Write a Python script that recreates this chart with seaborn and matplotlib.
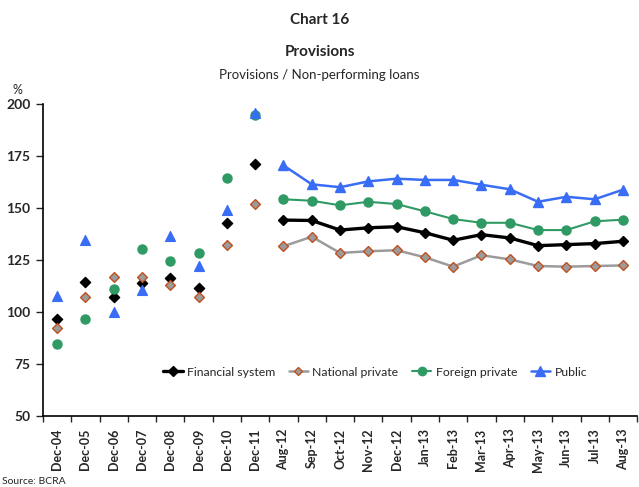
import numpy as np
import pandas as pd
import matplotlib.pyplot as plt
import seaborn as sns
from matplotlib.lines import Line2D

sns.set_theme(style="white")
plt.rcParams["font.family"] = ["Lato", "DejaVu Sans"]

# ---- data ----
annual_labels = ["Dec-04", "Dec-05", "Dec-06", "Dec-07", "Dec-08", "Dec-09", "Dec-10", "Dec-11"]
monthly_labels = ["Aug-12", "Sep-12", "Oct-12", "Nov-12", "Dec-12", "Jan-13", "Feb-13",
                  "Mar-13", "Apr-13", "May-13", "Jun-13", "Jul-13", "Aug-13"]

fin_annual = [96.5, 114.6, 107.2, 114.1, 116.2, 111.5, 142.6, 171.2]
nat_annual = [92.2, 107.0, 116.7, 116.7, 113.1, 107.0, 132.2, 151.8]
for_annual = [84.5, 96.6, 110.9, 130.4, 124.7, 128.2, 164.4, 194.6]
pub_annual = [107.8, 134.6, 100.0, 110.6, 136.5, 122.3, 149.0, 195.8]

fin_monthly = [144.2, 144.0, 139.4, 140.5, 141.0, 138.1, 134.5, 137.2, 135.6, 131.9, 132.4, 132.9, 134.0]
nat_monthly = [131.6, 136.2, 128.4, 129.2, 129.7, 126.3, 121.8, 127.3, 125.3, 122.1, 121.8, 122.1, 122.4]
for_monthly = [154.2, 153.5, 151.3, 153.0, 151.9, 148.4, 144.7, 142.9, 142.9, 139.4, 139.4, 143.6, 144.4]
pub_monthly = [170.5, 161.4, 160.0, 162.8, 164.1, 163.5, 163.5, 161.2, 159.0, 153.0, 155.4, 154.2, 158.8]

labels = annual_labels + monthly_labels
n_annual = len(annual_labels)

series = {
    "Financial system": (fin_annual, fin_monthly),
    "National private": (nat_annual, nat_monthly),
    "Foreign private": (for_annual, for_monthly),
    "Public": (pub_annual, pub_monthly),
}

styles = {
    "Financial system": dict(color="black", marker="D", mfc="black", mec="black", ms=5.2, lw=2.4),
    "National private": dict(color="#9b9b9b", marker="D", mfc="#9b9b9b", mec="#c0501f", ms=5.0, lw=1.8),
    "Foreign private": dict(color="#2f9a63", marker="o", mfc="#2f9a63", mec="#2f9a63", ms=6.5, lw=1.5),
    "Public": dict(color="#3a6df5", marker="^", mfc="#3a6df5", mec="#3a6df5", ms=7, lw=1.8),
}

fig = plt.figure(figsize=(6.39, 4.87), dpi=100)
ax = fig.add_axes([0.0673, 0.1458, 0.9297, 0.6406])

handles = []
for name, (ann, mon) in series.items():
    st = styles[name]
    x_ann = np.arange(n_annual)
    x_mon = np.arange(n_annual, len(labels))
    sns.scatterplot(x=x_ann, y=ann, ax=ax, marker=st["marker"], color=st["mfc"],
                    edgecolor=st["mec"], linewidth=1.0, s=st["ms"] ** 2, zorder=3)
    sns.lineplot(x=x_mon, y=mon, ax=ax, color=st["color"], lw=st["lw"], zorder=2)
    ax.plot(x_mon, mon, ls="none", marker=st["marker"], mfc=st["mfc"], mec=st["mec"],
            ms=st["ms"], mew=1.0, zorder=3)
    handles.append(Line2D([], [], color=st["color"], lw=st["lw"], marker=st["marker"],
                          mfc=st["mfc"], mec=st["mec"], ms=st["ms"] - 0.5, mew=1.0, label=name))

ax.set_xlim(-0.5, len(labels) - 0.5)
ax.set_ylim(50, 200)
ax.set_yticks([50, 75, 100, 125, 150, 175, 200])
ax.set_xticks(np.arange(len(labels)))
ax.set_xticklabels(labels, rotation=90, fontweight="bold", fontsize=9)
ax.set_xticks(np.arange(len(labels) + 1) - 0.5, minor=True)
ax.tick_params(axis="x", which="major", length=0, pad=9)
ax.tick_params(axis="x", which="minor", length=4, width=1, direction="out", bottom=True)
ax.tick_params(axis="y", length=5, width=1, direction="out", left=True, labelsize=10, pad=4)
for lab in ax.get_yticklabels():
    lab.set_fontweight("bold")
for sp in ["top", "right"]:
    ax.spines[sp].set_visible(False)
for sp in ["left", "bottom"]:
    ax.spines[sp].set_color("black")
    ax.spines[sp].set_linewidth(1.2)
ax.set_xlabel("")
ax.set_ylabel("")

ax.legend(handles=handles, loc="center", bbox_to_anchor=(0.559, 0.141), ncol=4, frameon=False,
          fontsize=8.8, handlelength=1.6, columnspacing=1.1, handletextpad=0.35)

fig.text(0.5, 0.958, "Chart 16", ha="center", va="center", fontsize=11, fontweight="bold")
fig.text(0.5, 0.893, "Provisions", ha="center", va="center", fontsize=11, fontweight="bold")
fig.text(0.5, 0.846, "Provisions / Non-performing loans", ha="center", va="center", fontsize=9.5)
fig.text(0.028, 0.815, "%", ha="center", va="center", fontsize=9)
fig.text(0.003, 0.012, "Source: BCRA", ha="left", va="center", fontsize=7.5)

fig.savefig("out.png", dpi=100)
